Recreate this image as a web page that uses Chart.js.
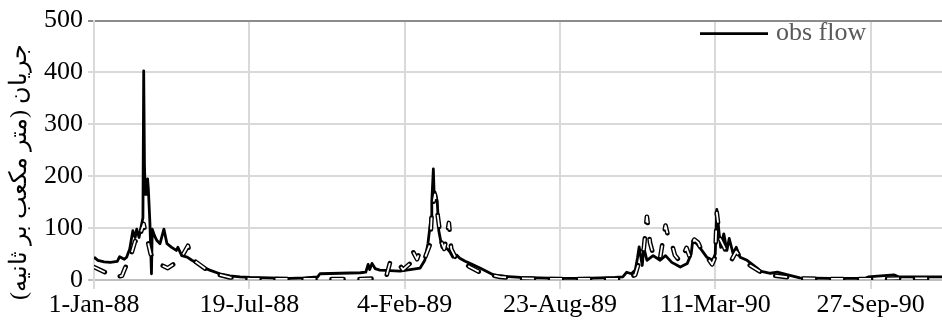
<!DOCTYPE html>
<html lang="fa" dir="ltr">
<head>
<meta charset="utf-8">
<script src="https://cdn.jsdelivr.net/npm/chart.js@4.4.1/dist/chart.umd.min.js"></script>
<style>
  html, body { margin: 0; padding: 0; background: #fff; overflow: hidden; }
  #marco { position: relative; width: 942px; height: 327px; }
</style>
</head>
<body>
<div id="marco"><canvas id="grafico"></canvas></div>
<script>
// Eje X: días desde 1-Jan-88
const tickDays = [0, 200, 400, 600, 800, 1000];
const tickLabels = ["1-Jan-88", "19-Jul-88", "4-Feb-89", "23-Aug-89", "11-Mar-90", "27-Sep-90"];
const yTicks = [0, 100, 200, 300, 400, 500];
const lastDay = 1092;
const yTitle = "جریان (متر مکعب بر ثانیه)";

// Caudal observado (obs flow)
const obsDays = [0, 5, 13, 21, 30, 33, 39, 42, 46, 50, 53, 55, 58, 61, 63, 64, 65, 66, 67, 68, 69, 70, 72, 74, 75,
  78, 81, 85, 90, 94, 100, 106, 108, 113, 120, 126, 133, 140, 149, 162, 175, 188, 201, 227, 252, 272, 288, 291,
  317, 343, 350, 353, 355, 358, 362, 368, 394, 407, 420, 426, 430, 434, 435, 437, 438, 439, 442, 444, 448, 455,
  458, 462, 467, 471, 478, 484, 497, 514, 529, 549, 574, 600, 626, 652, 671, 681, 686, 692, 697, 700, 702, 706,
  708, 712, 720, 729, 736, 744, 755, 764, 769, 771, 776, 780, 789, 797, 800, 802, 805, 807, 811, 815, 818, 823,
  827, 832, 841, 854, 858, 871, 880, 896, 909, 948, 993, 997, 1030, 1036, 1092];
const obsFlow = [44, 38, 35, 34, 36, 45, 40, 44, 60, 95, 82, 98, 82, 105, 120, 403, 220, 165, 180, 165, 195, 175, 110, 12, 98,
  85, 76, 70, 98, 70, 63, 57, 63, 47, 44, 38, 32, 25, 19, 12, 8, 6, 5, 4, 3, 4, 6, 12,
  13, 14, 15, 30, 20, 32, 22, 19, 17, 20, 23, 38, 70, 120, 150, 214, 165, 170, 152, 95, 63, 60,
  55, 44, 48, 42, 36, 32, 23, 10, 7, 5, 4, 3, 3, 4, 5, 6, 15, 12, 19, 44, 64, 28,
  63, 38, 47, 38, 47, 34, 25, 32, 50, 76, 70, 63, 44, 38, 50, 136, 90, 63, 89, 57, 80, 51,
  63, 44, 38, 23, 17, 13, 15, 9, 4, 3, 3, 6, 10, 6, 6];

// Caudal simulado (línea discontinua hueca)
const simDays = [0, 14, 27, 36, 40, 46, 53, 57, 61, 64, 67, 70, 73, 79, 85, 95, 102, 108, 115, 121, 125, 131, 143,
  156, 175, 201, 227, 265, 304, 343, 364, 377, 382, 390, 398, 407, 410, 416, 420, 426, 433, 435, 439, 443, 447,
  451, 455, 457, 460, 465, 471, 484, 497, 510, 523, 549, 587, 652, 677, 688, 697, 703, 708, 712, 716, 720, 724,
  729, 733, 736, 740, 744, 748, 755, 763, 767, 773, 778, 783, 789, 796, 800, 802, 806, 811, 816, 820, 827, 832,
  838, 845, 858, 868, 890, 909, 948, 999, 1038, 1092];
const simFlow = [25, 15, 6, 8, 23, 40, 75, 70, 95, 108, 85, 70, 50, 38, 30, 23, 30, 30, 50, 66, 45, 35, 22,
  12, 5, 2, 2, 2, 2, 2, 3, 10, 38, 35, 20, 32, 57, 40, 57, 42, 70, 130, 165, 120, 75,
  60, 90, 110, 60, 45, 38, 25, 15, 10, 6, 3, 2, 2, 2, 4, 10, 40, 60, 122, 72, 50, 38,
  42, 80, 105, 80, 70, 48, 35, 62, 45, 78, 72, 55, 45, 30, 45, 130, 80, 65, 47, 36, 55, 45,
  36, 28, 16, 10, 6, 3, 2, 2, 3, 3];

const fuente = "'Liberation Serif', 'Times New Roman', serif";

function puntos(dias, valores) {
  return dias.map((d, i) => ({ x: d, y: valores[i] }));
}

// Leyenda dentro del área de trazado (sólo la serie observada)
const leyendaPlugin = {
  id: "leyenda",
  afterDatasetsDraw(chart) {
    const ds = chart.data.datasets.find(d => d.enLeyenda);
    const area = chart.chartArea;
    const c = chart.ctx;
    const y = area.top + 13;
    const x0 = area.right - 242;
    c.save();
    c.strokeStyle = ds.borderColor;
    c.lineWidth = ds.borderWidth;
    c.beginPath();
    c.moveTo(x0, y);
    c.lineTo(x0 + 68, y);
    c.stroke();
    c.fillStyle = "#595959";
    c.font = "26px " + fuente;
    c.textBaseline = "middle";
    c.fillText(ds.label, x0 + 76, y);
    c.restore();
  }
};

// Título vertical del eje Y
const tituloYPlugin = {
  id: "tituloY",
  afterDraw(chart) {
    const area = chart.chartArea;
    const c = chart.ctx;
    c.save();
    c.translate(20, area.bottom - 108);
    c.rotate(-Math.PI / 2);
    c.fillStyle = "#000";
    c.font = "24px " + fuente;
    c.textAlign = "center";
    c.textBaseline = "middle";
    c.fillText(yTitle, 0, 0);
    c.restore();
  }
};

const ctx = document.getElementById("grafico").getContext("2d");

new Chart(ctx, {
  type: "line",
  data: {
    datasets: [
      {
        label: "sim flow",
        data: puntos(simDays, simFlow),
        borderColor: "#ffffff",
        borderWidth: 1.8,
        borderDash: [12, 16],
        borderCapStyle: "butt",
        borderJoinStyle: "round",
        pointRadius: 0,
        tension: 0
      },
      {
        label: "sim flow borde",
        data: puntos(simDays, simFlow),
        borderColor: "#000000",
        borderWidth: 4.6,
        borderDash: [12, 16],
        borderCapStyle: "round",
        borderJoinStyle: "round",
        pointRadius: 0,
        tension: 0
      },
      {
        label: "obs flow",
        enLeyenda: true,
        data: puntos(obsDays, obsFlow),
        borderColor: "#000000",
        borderWidth: 2.8,
        borderJoinStyle: "round",
        pointRadius: 0,
        tension: 0
      }
    ]
  },
  options: {
    responsive: true,
    maintainAspectRatio: false,
    animation: false,
    devicePixelRatio: 1,
    layout: { padding: { top: 16, right: 0, bottom: 0, left: 0 } },
    plugins: {
      legend: { display: false },
      tooltip: { enabled: false }
    },
    scales: {
      x: {
        type: "linear",
        min: 0,
        max: lastDay,
        afterBuildTicks: s => { s.ticks = tickDays.map(v => ({ value: v })); },
        afterFit: s => { s.height = 47; },
        ticks: {
          autoSkip: false,
          maxRotation: 0,
          padding: 1,
          color: "#000",
          font: { family: fuente, size: 26 },
          callback: v => tickLabels[tickDays.indexOf(v)]
        },
        grid: { color: "#d9d9d9", lineWidth: 2, tickLength: 9 },
        border: { color: "#bfbfbf", width: 2 }
      },
      y: {
        min: 0,
        max: 500,
        afterBuildTicks: s => { s.ticks = yTicks.map(v => ({ value: v })); },
        afterFit: s => { s.width = 94; },
        ticks: {
          padding: 5,
          color: "#000",
          font: { family: fuente, size: 26 }
        },
        grid: {
          color: c => c.tick.value === 500 ? "#8c8c8c" : (c.tick.value === 0 ? "#bfbfbf" : "#d9d9d9"),
          lineWidth: 2,
          tickLength: 6
        },
        border: { color: "#d9d9d9", width: 2 }
      }
    }
  },
  plugins: [leyendaPlugin, tituloYPlugin]
});
</script>
</body>
</html>
